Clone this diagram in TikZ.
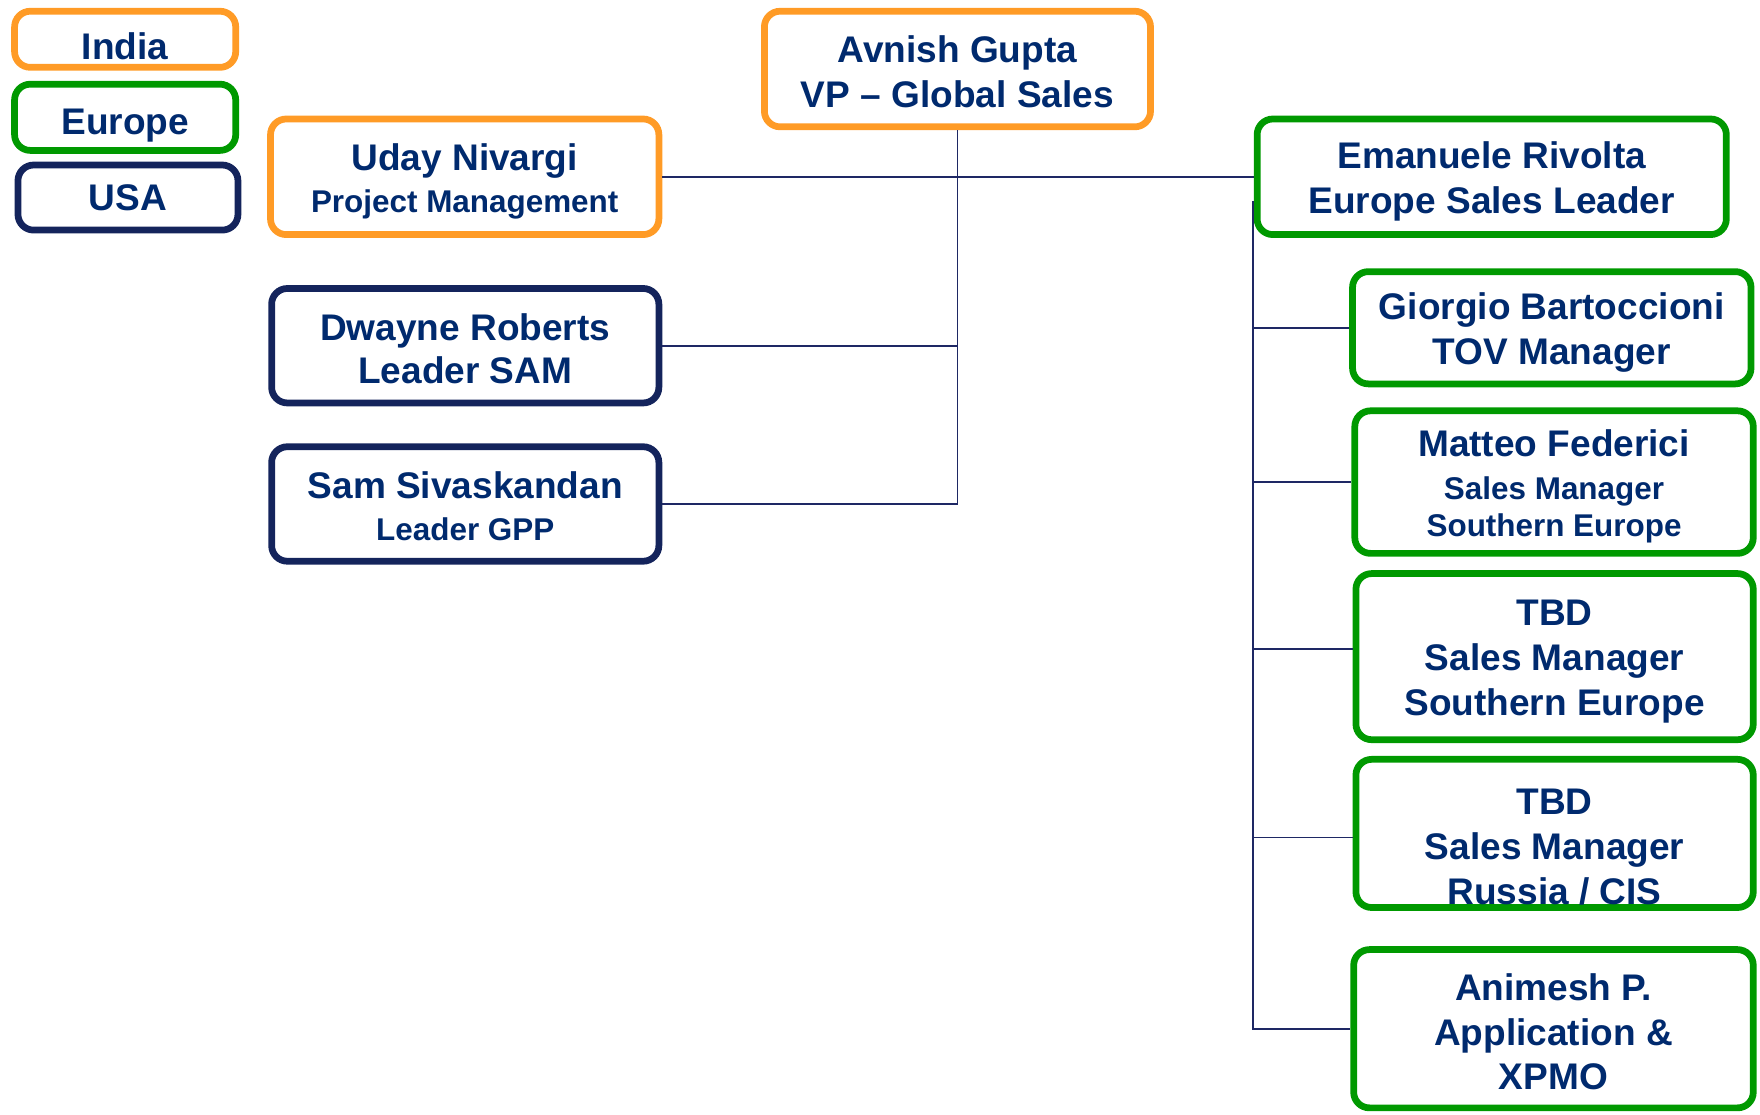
\documentclass[tikz,border=0pt]{standalone}
\usepackage{fontspec}
\setmainfont{Liberation Sans}
\usetikzlibrary{calc}
\definecolor{txt}{RGB}{0,42,110}
\definecolor{org}{RGB}{255,155,38}
\definecolor{grn}{RGB}{0,153,0}
\definecolor{usa}{RGB}{20,36,92}
\definecolor{con}{RGB}{30,40,100}
\newcommand\lt[1]{{\fontsize{28}{33}\selectfont #1}}
\newcommand\st{\rule[-3pt]{0pt}{35pt}}
\newcommand\sd{\rule[-4pt]{0pt}{0pt}}
\begin{document}
\begin{tikzpicture}[x=1pt,y=-1pt,
 box/.style={draw, rounded corners=14pt, line width=6pt, fill=white, text=txt, align=center, inner sep=0pt, font=\fontsize{33}{40}\selectfont\bfseries},
 ind/.style={box, draw=org}, eur/.style={box, draw=grn}, us/.style={box, draw=usa},
 con/.style={draw=con, line width=1.5pt}]
\useasboundingbox (0,0) rectangle (1568,993);

% legend
\node[ind, minimum width=197, minimum height=50] (india) at (111.5,35) {\rule{0pt}{36pt}India};
\node[eur, minimum width=197, minimum height=59] (europe) at (111.5,104.5) {\rule{0pt}{38pt}Europe};
\node[us, minimum width=196, minimum height=58] (usa) at (114,176) {USA};

% top and left
\node[ind, minimum width=344, minimum height=103] (avnish) at (853,61.5) {\st Avnish Gupta\\\st VP – Global Sales};
\node[ind, minimum width=346, minimum height=103] (uday) at (414,157.5) {\st Uday Nivargi\\[-3pt]\lt{\sd Project Management}};
\node[us, minimum width=345, minimum height=102] (dwayne) at (414.5,308) {\st Dwayne Roberts\\[-1pt]\st Leader SAM};
\node[us, minimum width=345, minimum height=102] (sam) at (414.5,449) {\st Sam Sivaskandan\\[-3pt]\lt{\sd Leader GPP}};

% Europe
\node[eur, minimum width=418, minimum height=103] (emanuele) at (1329,157.5) {\st Emanuele Rivolta\\\st Europe Sales Leader};
\node[eur, minimum width=355, minimum height=100] (giorgio) at (1382.5,292) {\st Giorgio Bartoccioni\\\st TOV Manager};
\node[eur, minimum width=355, minimum height=127] (matteo) at (1384.5,429.5) {\st Matteo Federici\\[-2pt]\lt{Sales Manager}\\[-7pt]\lt{\sd Southern Europe}};
\node[eur, minimum width=354, minimum height=148] (tbda) at (1385,585) {\st TBD\\Sales Manager\\\st Southern Europe};
\node[eur, minimum width=354, minimum height=125] (tbdb) at (1385,742.5) {\rule{0pt}{49pt}TBD\\Sales Manager\\\st Russia / CIS};
\node[eur, minimum width=356, minimum height=141] (animesh) at (1384,916.5) {\st Animesh P.\\Application \&\\\st XPMO};

% connectors
\coordinate (vj) at (avnish.south |- sam.east);
\draw[con] (avnish.south) -- (vj) -- (sam.east);
\draw[con] (dwayne.east) -- (dwayne.east -| avnish.south);
\draw[con] (uday.east) -- (emanuele.west);

\coordinate (eb) at ($(emanuele.west)+(-1,22)$);
\draw[con] (eb) -- (eb |- animesh.west) -- (animesh.west);
\draw[con] (eb |- giorgio.west) -- (giorgio.west);
\draw[con] (eb |- matteo.west) -- (matteo.west);
\coordinate (ta) at ($(tbda.west)+(0,-7)$);
\draw[con] (eb |- ta) -- (ta);
\coordinate (tb) at ($(tbdb.west)+(0,3.5)$);
\draw[con] (eb |- tb) -- (tb);
\end{tikzpicture}
\end{document}
